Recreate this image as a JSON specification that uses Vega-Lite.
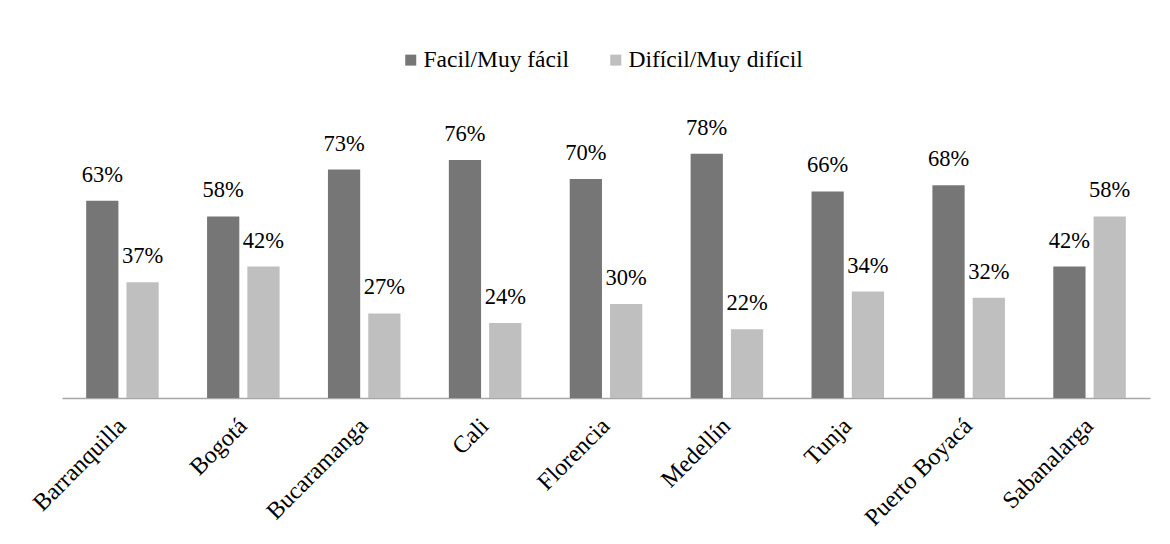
{
  "$schema": "https://vega.github.io/schema/vega-lite/v6.json",
  "autosize": "none",
  "padding": {"left": 62, "top": 85, "right": 20, "bottom": 146},
  "width": 1088,
  "height": 313,
  "background": "white",
  "data": {
    "values": [
      {"ciudad": "Barranquilla", "serie": "Facil/Muy fácil", "valor": 0.63},
      {"ciudad": "Barranquilla", "serie": "Difícil/Muy difícil", "valor": 0.37},
      {"ciudad": "Bogotá", "serie": "Facil/Muy fácil", "valor": 0.58},
      {"ciudad": "Bogotá", "serie": "Difícil/Muy difícil", "valor": 0.42},
      {"ciudad": "Bucaramanga", "serie": "Facil/Muy fácil", "valor": 0.73},
      {"ciudad": "Bucaramanga", "serie": "Difícil/Muy difícil", "valor": 0.27},
      {"ciudad": "Cali", "serie": "Facil/Muy fácil", "valor": 0.76},
      {"ciudad": "Cali", "serie": "Difícil/Muy difícil", "valor": 0.24},
      {"ciudad": "Florencia", "serie": "Facil/Muy fácil", "valor": 0.70},
      {"ciudad": "Florencia", "serie": "Difícil/Muy difícil", "valor": 0.30},
      {"ciudad": "Medellín", "serie": "Facil/Muy fácil", "valor": 0.78},
      {"ciudad": "Medellín", "serie": "Difícil/Muy difícil", "valor": 0.22},
      {"ciudad": "Tunja", "serie": "Facil/Muy fácil", "valor": 0.66},
      {"ciudad": "Tunja", "serie": "Difícil/Muy difícil", "valor": 0.34},
      {"ciudad": "Puerto Boyacá", "serie": "Facil/Muy fácil", "valor": 0.68},
      {"ciudad": "Puerto Boyacá", "serie": "Difícil/Muy difícil", "valor": 0.32},
      {"ciudad": "Sabanalarga", "serie": "Facil/Muy fácil", "valor": 0.42},
      {"ciudad": "Sabanalarga", "serie": "Difícil/Muy difícil", "valor": 0.58}
    ]
  },
  "encoding": {
    "x": {
      "field": "ciudad",
      "type": "nominal",
      "sort": null,
      "scale": {"paddingInner": 0.4, "paddingOuter": 0.2},
      "axis": {
        "title": null,
        "labelAngle": -45,
        "labelAlign": "right",
        "labelBaseline": "middle",
        "labelPadding": 24,
        "labelLimit": 300,
        "ticks": false,
        "domainColor": "#a6a6a6",
        "domainWidth": 1.5,
        "labelFont": "Liberation Serif",
        "labelFontSize": 24,
        "labelColor": "#000000"
      }
    },
    "xOffset": {
      "field": "serie",
      "type": "nominal",
      "sort": ["Facil/Muy fácil", "Difícil/Muy difícil"],
      "scale": {"paddingInner": 0.2, "paddingOuter": 0}
    },
    "y": {
      "field": "valor",
      "type": "quantitative",
      "scale": {"domain": [0, 1]},
      "axis": null
    }
  },
  "layer": [
    {
      "mark": {"type": "bar"},
      "encoding": {
        "color": {
          "field": "serie",
          "type": "nominal",
          "sort": ["Facil/Muy fácil", "Difícil/Muy difícil"],
          "scale": {"domain": ["Facil/Muy fácil", "Difícil/Muy difícil"], "range": ["#767676", "#bfbfbf"]},
          "legend": {
            "title": null,
            "orient": "none",
            "legendX": 337,
            "legendY": -37,
            "direction": "horizontal",
            "symbolType": "square",
            "symbolSize": 121,
            "symbolStrokeWidth": 0,
            "labelFont": "Liberation Serif",
            "labelFontSize": 23.5,
            "labelColor": "#000000",
            "labelOffset": 1,
            "labelLimit": 400,
            "columnPadding": 34
          }
        }
      }
    },
    {
      "mark": {"type": "text", "baseline": "alphabetic", "dy": -19, "font": "Liberation Serif", "fontSize": 22.5, "color": "#000000"},
      "encoding": {
        "text": {"field": "valor", "type": "quantitative", "format": ".0%"}
      }
    }
  ],
  "config": {
    "view": {"stroke": null}
  }
}
